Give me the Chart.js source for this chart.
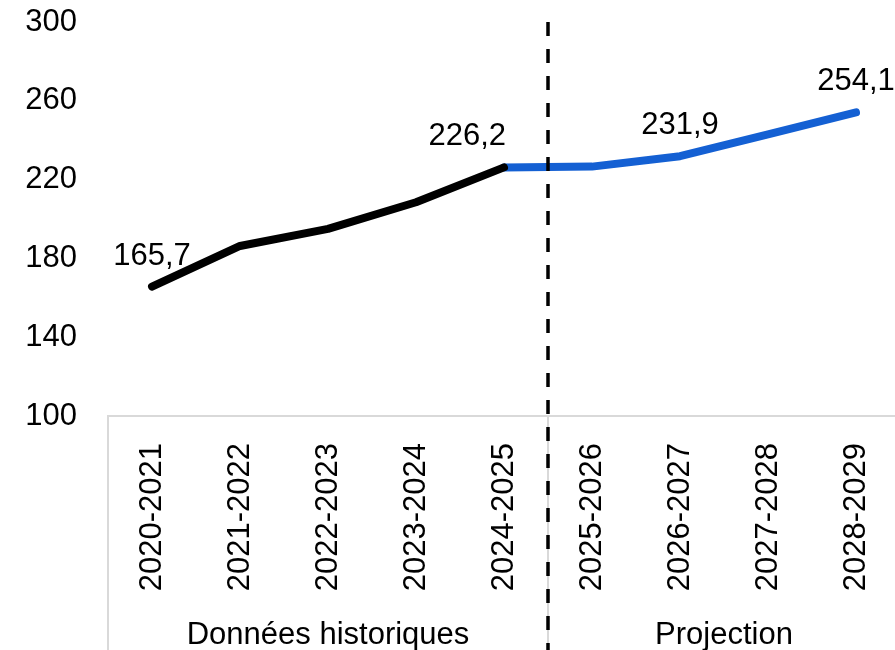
<!DOCTYPE html>
<html lang="fr">
<head>
<meta charset="utf-8">
<script src="https://cdn.jsdelivr.net/npm/chart.js@4"></script>
<style>
  html, body { margin: 0; padding: 0; background: #fff; overflow: hidden; }
  #wrap { width: 895px; height: 650px; overflow: hidden; }
</style>
</head>
<body>
<div id="wrap"><canvas id="chart" width="900" height="650"></canvas></div>
<script>
// data
const categories = ['2020-2021', '2021-2022', '2022-2023', '2023-2024', '2024-2025',
                    '2025-2026', '2026-2027', '2027-2028', '2028-2029'];
const historique = [165.7, 186.3, 195.0, 208.5, 226.2, null, null, null, null];
const projection = [null, null, null, null, 226.2, 226.6, 231.9, 243.0, 254.1];
const valueLabels = ['165,7', null, null, null, '226,2', null, '231,9', null, '254,1'];
const yTicks = [100, 140, 180, 220, 260, 300];
const groupNames = ['Données historiques', 'Projection'];
const groupEnds = [4, 8]; // last category index of each group

const FONT = "'Liberation Sans', Arial, sans-serif";
Chart.defaults.font.family = FONT;
Chart.defaults.font.size = 31;
Chart.defaults.color = '#000';

// dashed separator, gray group lines, group names, value labels
const extras = {
    id: 'extras',
    beforeDatasetsDraw(chart) {
        const ctx = chart.ctx;
        const x = chart.scales.x;
        const area = chart.chartArea;
        ctx.save();
        ctx.strokeStyle = '#d9d9d9';
        ctx.lineWidth = 2;
        [area.left, x.getPixelForValue(groupEnds[0] + 0.5)].forEach(px => {
            ctx.beginPath();
            ctx.moveTo(px, area.bottom);
            ctx.lineTo(px, chart.height);
            ctx.stroke();
        });
        ctx.restore();
    },
    afterDatasetsDraw(chart) {
        const ctx = chart.ctx;
        const x = chart.scales.x;
        const area = chart.chartArea;
        ctx.save();

        // vertical dashed line between history and projection
        const sep = x.getPixelForValue(groupEnds[0] + 0.5);
        ctx.strokeStyle = '#000';
        ctx.lineWidth = 3.5;
        ctx.setLineDash([14, 13]);
        ctx.beginPath();
        ctx.moveTo(sep, 22);
        ctx.lineTo(sep, chart.height);
        ctx.stroke();
        ctx.setLineDash([]);

        // group names under the category labels
        ctx.font = '31px ' + FONT;
        ctx.fillStyle = '#000';
        ctx.textAlign = 'center';
        ctx.textBaseline = 'alphabetic';
        let start = 0;
        groupEnds.forEach((end, g) => {
            const left = start === 0 ? area.left : x.getPixelForValue(start - 0.5);
            const right = x.getPixelForValue(end + 0.5);
            ctx.fillText(groupNames[g], (left + right) / 2, 644);
            start = end + 1;
        });

        // value labels above chosen points
        valueLabels.forEach((txt, i) => {
            if (!txt) return;
            const ds = historique[i] !== null ? 0 : 1;
            const pt = chart.getDatasetMeta(ds).data[i];
            const rightAligned = i === groupEnds[0];
            ctx.textAlign = rightAligned ? 'right' : 'center';
            ctx.fillText(txt, pt.x + (rightAligned ? 2 : 0), pt.y - 22);
        });
        ctx.restore();
    }
};

const lineStyle = {
    fill: false,
    borderWidth: 8,
    borderCapStyle: 'round',
    borderJoinStyle: 'round',
    pointRadius: 0,
    pointHoverRadius: 0,
    tension: 0,
    spanGaps: false
};

new Chart(document.getElementById('chart'), {
    type: 'line',
    data: {
        labels: categories,
        datasets: [
            Object.assign({ label: 'Données historiques', data: historique, borderColor: '#000' }, lineStyle),
            Object.assign({ label: 'Projection', data: projection, borderColor: '#1460d3' }, lineStyle)
        ]
    },
    options: {
        responsive: false,
        animation: false,
        layout: { padding: { top: 22, right: 0, left: 0, bottom: 0 } },
        plugins: {
            legend: { display: false },
            tooltip: { enabled: false }
        },
        scales: {
            x: {
                offset: true,
                grid: { display: false, drawTicks: false },
                border: { display: true, color: '#d9d9d9', width: 2 },
                ticks: { minRotation: 90, maxRotation: 90, padding: 27, autoSkip: false },
                afterFit: s => { s.height = 234; s.paddingLeft = 0; s.paddingRight = 0; }
            },
            y: {
                min: yTicks[0],
                max: yTicks[yTicks.length - 1],
                grid: { display: false, drawTicks: false },
                border: { display: false },
                afterBuildTicks: s => { s.ticks = yTicks.map(v => ({ value: v })); },
                ticks: { padding: 31 },
                afterFit: s => { s.width = 108; s.paddingTop = 0; s.paddingBottom = 0; }
            }
        }
    },
    plugins: [extras]
});
</script>
</body>
</html>
